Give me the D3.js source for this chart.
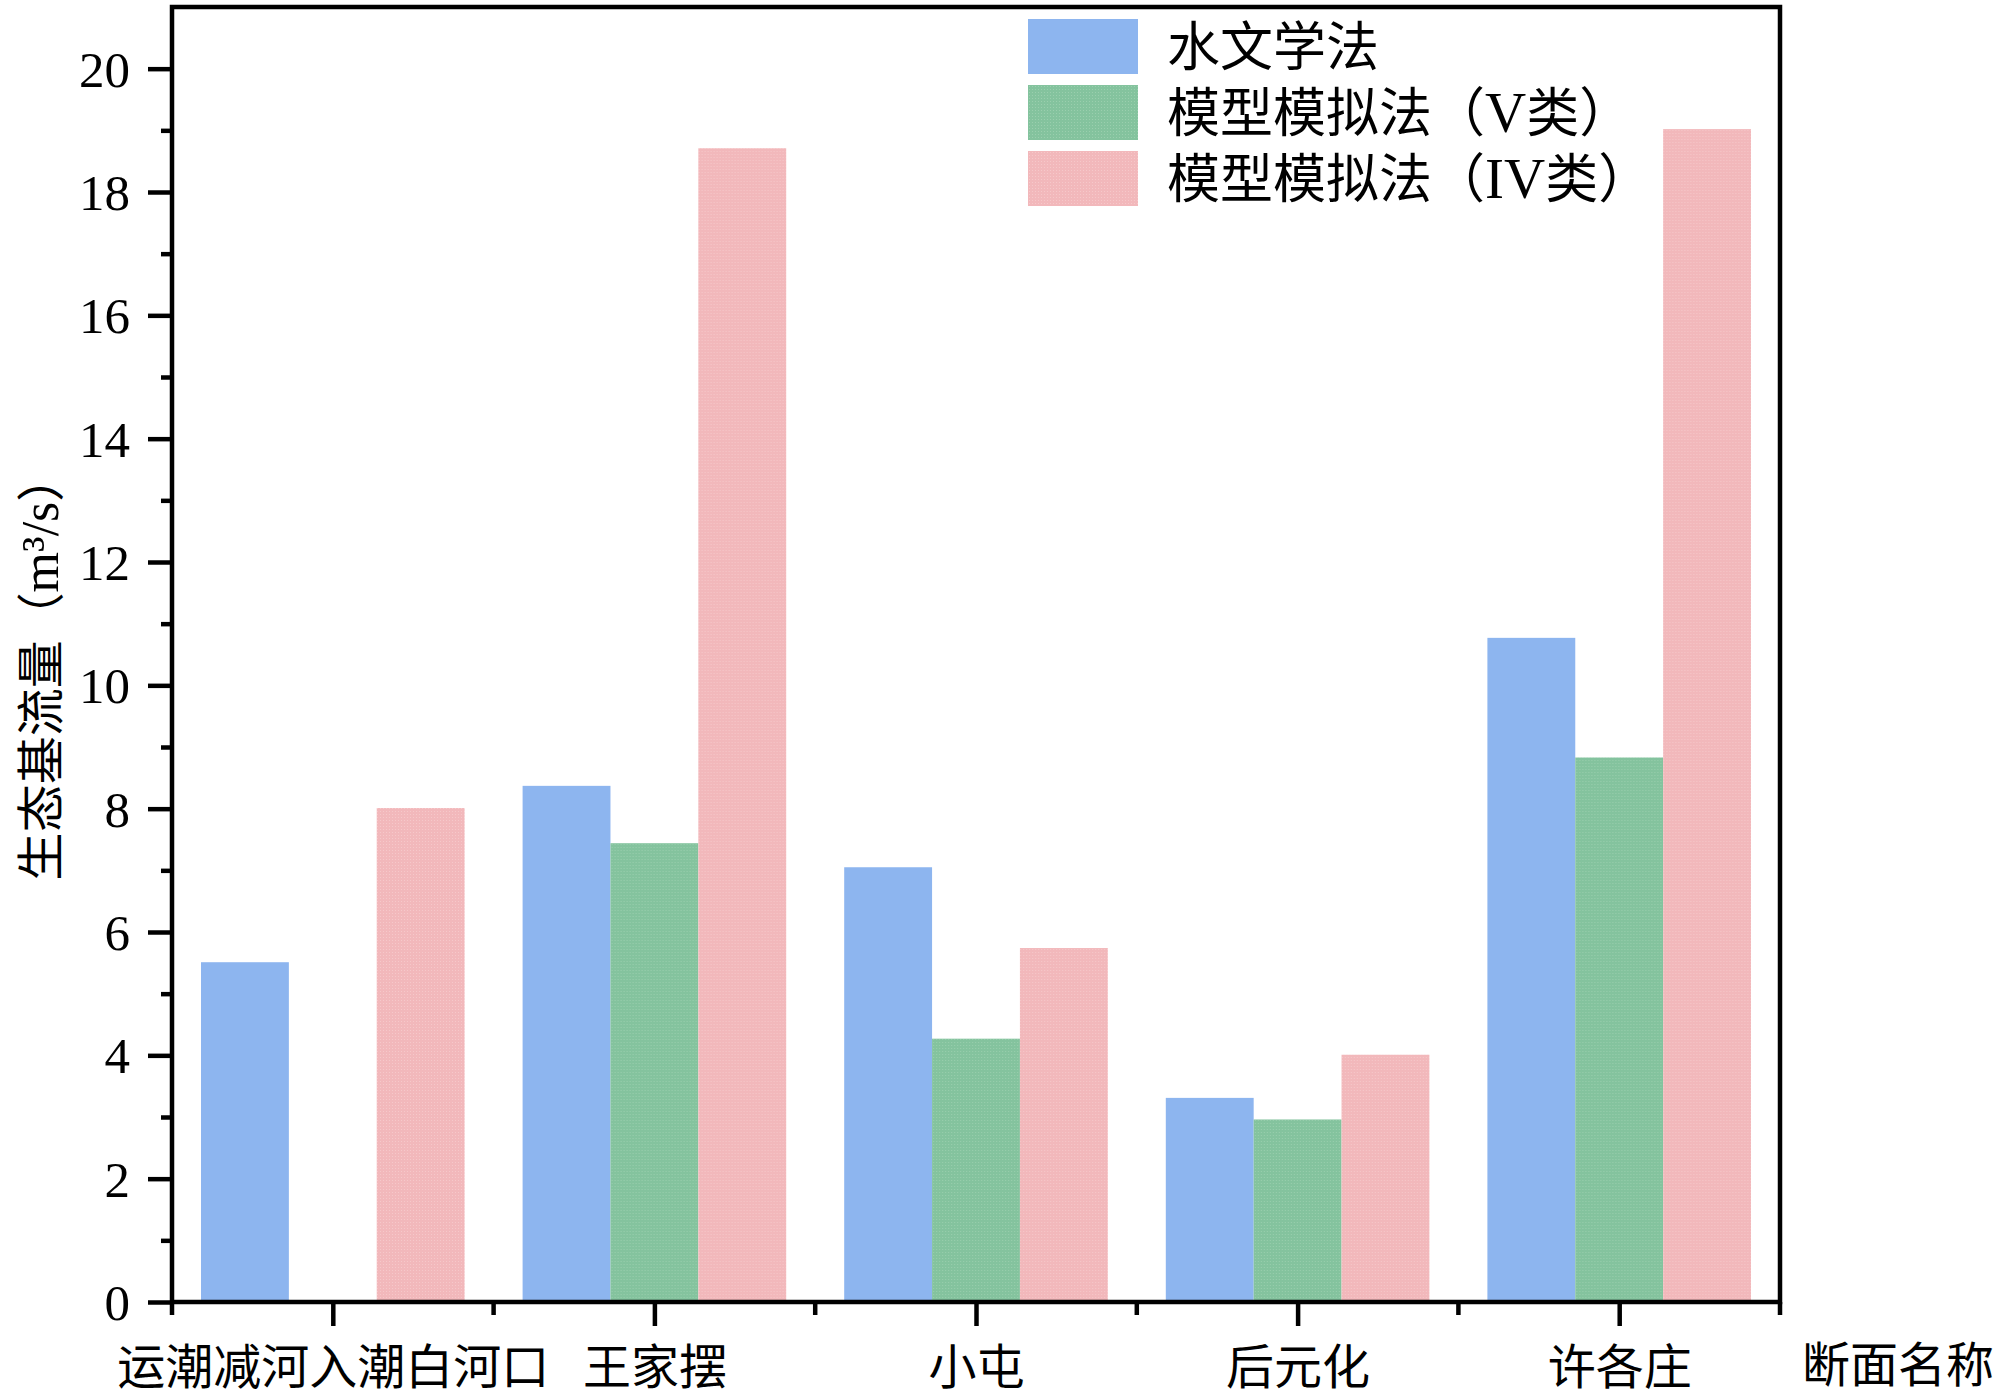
<!DOCTYPE html>
<html>
<head>
<meta charset="utf-8">
<script src="https://cdnjs.cloudflare.com/ajax/libs/d3/7.8.5/d3.min.js"></script>
<style>
  html, body { margin: 0; padding: 0; background: #fff; }
  svg { display: block; }
  text { font-family: "Liberation Serif", "Times New Roman", "Noto Sans CJK SC", serif; fill: #000; }
</style>
</head>
<body>
<svg id="chart" width="2000" height="1400"></svg>
<script>
const categories = ["运潮减河入潮白河口", "王家摆", "小屯", "后元化", "许各庄"];
const seriesNames = ["水文学法", "模型模拟法（V类）", "模型模拟法（IV类）"];
const hydroValues = [5.51, 8.37, 7.05, 3.31, 10.77];
const modelVValues = [null, 7.44, 4.27, 2.96, 8.83];
const modelIVValues = [8.01, 18.71, 5.74, 4.01, 19.02];
const yTickValues = [0, 2, 4, 6, 8, 10, 12, 14, 16, 18, 20];
const yMinorTickValues = [1, 3, 5, 7, 9, 11, 13, 15, 17, 19];
const yAxisTitle = "生态基流量（m³/s）";
const xAxisTitle = "断面名称";

const seriesValues = [hydroValues, modelVValues, modelIVValues];
const colors = ["#8DB5EF", "#84C39E", "#F2B8BB"];
const CJK = "'Noto Sans CJK SC', 'Liberation Serif', serif";
const SERIF = "'Liberation Serif', 'Times New Roman', serif";

const svg = d3.select("#chart");
const L = 172, R = 1780, T = 7, B = 1302;

// patterns
const defs = svg.append("defs");
function makePattern(id, base, dot) {
  const p = defs.append("pattern").attr("id", id).attr("patternUnits", "userSpaceOnUse")
    .attr("width", 3).attr("height", 3);
  p.append("rect").attr("width", 3).attr("height", 3).attr("fill", base);
  p.append("rect").attr("x", 1).attr("y", 1).attr("width", 1).attr("height", 1).attr("fill", dot);
}
makePattern("patV", "#84C39E", "#9ACFAE");
makePattern("patIV", "#F2B8BB", "#F6C8CA");
const fills = [colors[0], "url(#patV)", "url(#patIV)"];

const y = d3.scaleLinear().domain([0, 21]).range([B, T]);
const x0 = d3.scaleBand().domain(categories).range([L, R]).padding(0);
const x1 = d3.scaleBand().domain(d3.range(seriesNames.length)).range([29, x0.bandwidth() - 29]).padding(0);

// bars
const groups = svg.append("g").selectAll("g").data(categories).join("g")
  .attr("transform", d => `translate(${x0(d)},0)`);
groups.selectAll("rect")
  .data((d, i) => seriesValues.map((vals, s) => ({ s, v: vals[i] })).filter(e => e.v != null))
  .join("rect")
  .attr("x", e => x1(e.s))
  .attr("width", x1.bandwidth())
  .attr("y", e => y(e.v))
  .attr("height", e => y(0) - y(e.v))
  .attr("fill", e => fills[e.s]);

// y axis
const yAxis = d3.axisLeft(y).tickValues(yTickValues).tickSize(24).tickPadding(18).tickFormat(d3.format("d"));
const gy = svg.append("g").attr("transform", `translate(${L},0)`).call(yAxis);
gy.select(".domain").remove();
gy.selectAll(".tick line").attr("stroke", "#000").attr("stroke-width", 4.5);
gy.selectAll(".tick text").attr("font-size", 51).attr("dy", "0.34em").style("font-family", SERIF);
const yMinor = d3.axisLeft(y).tickValues(yMinorTickValues).tickSize(11).tickFormat("");
const gym = svg.append("g").attr("transform", `translate(${L},0)`).call(yMinor);
gym.select(".domain").remove();
gym.selectAll(".tick line").attr("stroke", "#000").attr("stroke-width", 4.5);

// x axis: major ticks at centers
const xCenter = d3.scalePoint().domain(categories).range([L + x0.bandwidth() / 2, R - x0.bandwidth() / 2]);
const xAxis = d3.axisBottom(xCenter).tickSize(24).tickPadding(24);
const gx = svg.append("g").attr("transform", `translate(0,${B})`).call(xAxis);
gx.select(".domain").remove();
gx.selectAll(".tick line").attr("stroke", "#000").attr("stroke-width", 4.5);
gx.selectAll(".tick text").attr("font-size", 48).attr("dy", "0.71em").style("font-family", CJK);
// boundary minor ticks
const boundaries = categories.map(c => x0(c)).concat([R]);
svg.append("g").selectAll("line").data(boundaries).join("line")
  .attr("x1", d => d).attr("x2", d => d).attr("y1", B).attr("y2", B + 13)
  .attr("stroke", "#000").attr("stroke-width", 4.5);

// frame
svg.append("rect").attr("x", L).attr("y", T).attr("width", R - L).attr("height", B - T)
  .attr("fill", "none").attr("stroke", "#000").attr("stroke-width", 4.5);

// axis titles
const yt = svg.append("text").attr("transform", `translate(58,667) rotate(-90)`)
  .attr("text-anchor", "middle").attr("font-size", 48).style("font-family", CJK);
yt.append("tspan").text("生态基流量（");
yt.append("tspan").style("font-family", SERIF).attr("font-size", 52).text("m³/s");
yt.append("tspan").text("）");
svg.append("text").attr("x", 1802).attr("y", 1382).attr("font-size", 48)
  .style("font-family", CJK).text(xAxisTitle);

// legend
const legend = svg.append("g").selectAll("g").data(seriesNames).join("g")
  .attr("transform", (d, i) => `translate(1028,${19 + i * 66})`);
legend.append("rect").attr("width", 110).attr("height", 55).attr("fill", (d, i) => fills[i]);
const lt = legend.append("text").attr("x", 139).attr("y", 28).attr("dy", "0.36em").attr("font-size", 53)
  .style("font-family", CJK);
lt.each(function(d) {
  const parts = d.split(/([A-Za-z]+)/).filter(p => p.length);
  const t = d3.select(this);
  parts.forEach(p => {
    const sp = t.append("tspan").text(p);
    if (/^[A-Za-z]+$/.test(p)) sp.style("font-family", SERIF).attr("font-size", 57);
  });
});
</script>
</body>
</html>
